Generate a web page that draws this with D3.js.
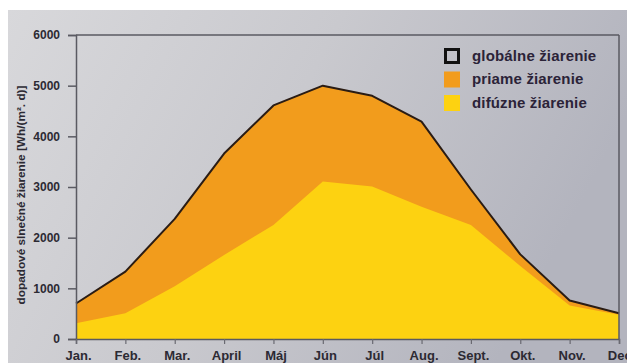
<!DOCTYPE html>
<html>
<head>
<meta charset="utf-8">
<script src="https://cdn.jsdelivr.net/npm/d3@7/dist/d3.min.js"></script>
<style>
  html, body { margin: 0; padding: 0; background: #ffffff; }
  svg { display: block; }
  text { font-family: "Liberation Sans", Arial, sans-serif; font-weight: bold; }
</style>
</head>
<body>
<svg id="chart" width="627" height="363"></svg>
<script>
// Monthly solar irradiation, Wh/(m².day)
const months = ["Jan.", "Feb.", "Mar.", "April", "Máj", "Jún", "Júl", "Aug.", "Sept.", "Okt.", "Nov.", "Dec."];
const globalValues  = [700, 1330, 2370, 3660, 4610, 5000, 4800, 4290, 2950, 1670, 760, 510];
const diffuseValues = [310, 510, 1040, 1660, 2250, 3110, 3010, 2610, 2250, 1440, 660, 480];
const yTicks = [0, 1000, 2000, 3000, 4000, 5000, 6000];
const legendLabels = ["globálne žiarenie", "priame žiarenie", "difúzne žiarenie"];

const W = 627, H = 363;
const plotLeft = 76, plotRight = 619, plotTop = 35, plotBottom = 339;

const svg = d3.select("#chart");

// background panel with soft horizontal gradient
const defs = svg.append("defs");
const grad = defs.append("linearGradient").attr("id", "panelGrad")
  .attr("x1", "0").attr("y1", "0").attr("x2", "1").attr("y2", "0.3");
grad.append("stop").attr("offset", "0").attr("stop-color", "#d8d8db");
grad.append("stop").attr("offset", "0.5").attr("stop-color", "#c9c9ce");
grad.append("stop").attr("offset", "1").attr("stop-color", "#b3b4be");

svg.append("rect").attr("x", 0).attr("y", 0).attr("width", W).attr("height", H).attr("fill", "#ffffff");
svg.append("rect").attr("x", 8).attr("y", 10).attr("width", W - 8).attr("height", H - 10)
  .attr("fill", "url(#panelGrad)");

const x = d3.scaleLinear().domain([0, months.length - 1]).range([plotLeft, plotRight]);
const y = d3.scaleLinear().domain([0, 6000]).range([plotBottom, plotTop]);

const colOrange = "#f29c1c";
const colYellow = "#fdd211";
const colLine = "#2a1c14";
const textCol = "#2c2a33";

// direct radiation = global minus diffuse, shown as the band between
const area = d3.area().x((d, i) => x(i)).y0(y(0)).y1(d => y(d));
svg.append("path").datum(globalValues).attr("d", area).attr("fill", colOrange);
svg.append("path").datum(diffuseValues).attr("d", area).attr("fill", colYellow);

// global radiation outline
const line = d3.line().x((d, i) => x(i)).y(d => y(d));
svg.append("path").datum(globalValues).attr("d", line)
  .attr("fill", "none").attr("stroke", colLine).attr("stroke-width", 2).attr("stroke-linejoin", "round");

// frame: top and right edges
svg.append("line").attr("x1", plotLeft).attr("x2", plotRight).attr("y1", plotTop).attr("y2", plotTop)
  .attr("stroke", "#5a5a62").attr("stroke-width", 1.5);
svg.append("line").attr("x1", plotRight).attr("x2", plotRight).attr("y1", plotTop).attr("y2", plotBottom)
  .attr("stroke", "#5a5a62").attr("stroke-width", 1.5);

// y axis
const yAxis = svg.append("g").attr("transform", `translate(${plotLeft},0)`)
  .call(d3.axisLeft(y).tickValues(yTicks).tickSize(8).tickPadding(8).tickFormat(d3.format("d")));
yAxis.select(".domain").attr("stroke", "#5a5a62").attr("stroke-width", 1.5);
yAxis.selectAll(".tick line").attr("stroke", "#5a5a62").attr("stroke-width", 1.5);
yAxis.selectAll(".tick text").attr("fill", textCol).style("font-size", "12px")
  .style("font-family", "'Liberation Sans', Arial, sans-serif").style("font-weight", "bold");

// x axis
const xAxis = svg.append("g").attr("transform", `translate(0,${plotBottom})`)
  .call(d3.axisBottom(x).tickValues(d3.range(months.length)).tickSize(5).tickPadding(0)
    .tickFormat(i => months[i]));
xAxis.select(".domain").attr("stroke", "#5a5a62").attr("stroke-width", 1.5);
xAxis.selectAll(".tick line").attr("stroke", "#6a6a72").attr("stroke-width", 1.2);
xAxis.selectAll(".tick text").attr("fill", textCol)
  .attr("dy", null).attr("y", 21).attr("dx", 2)
  .style("font-size", "13px")
  .style("font-family", "'Liberation Sans', Arial, sans-serif").style("font-weight", "bold");

// y axis title
svg.append("text")
  .attr("transform", "translate(25,195) rotate(-90)")
  .attr("text-anchor", "middle")
  .attr("fill", textCol)
  .style("font-size", "11.8px")
  .text("dopadové slnečné žiarenie [Wh/(m². d)]");

// legend
const legend = svg.append("g").attr("transform", "translate(444,48)");
const legendStyles = [
  { fill: "none", stroke: "#111111" },
  { fill: colOrange, stroke: "none" },
  { fill: colYellow, stroke: "none" }
];
legendLabels.forEach((lab, i) => {
  const g = legend.append("g").attr("transform", `translate(0,${i * 23.5})`);
  const s = legendStyles[i];
  if (s.stroke !== "none") {
    g.append("rect").attr("x", 1.5).attr("y", 1.5).attr("width", 13).attr("height", 13)
      .attr("fill", "none").attr("stroke", s.stroke).attr("stroke-width", 3);
  } else {
    g.append("rect").attr("x", 0).attr("y", 0).attr("width", 16).attr("height", 16).attr("fill", s.fill);
  }
  g.append("text").attr("x", 28).attr("y", 12.5).attr("fill", "#2b2338")
    .style("font-size", "15px").style("letter-spacing", "0.15px").text(lab);
});
</script>
</body>
</html>
